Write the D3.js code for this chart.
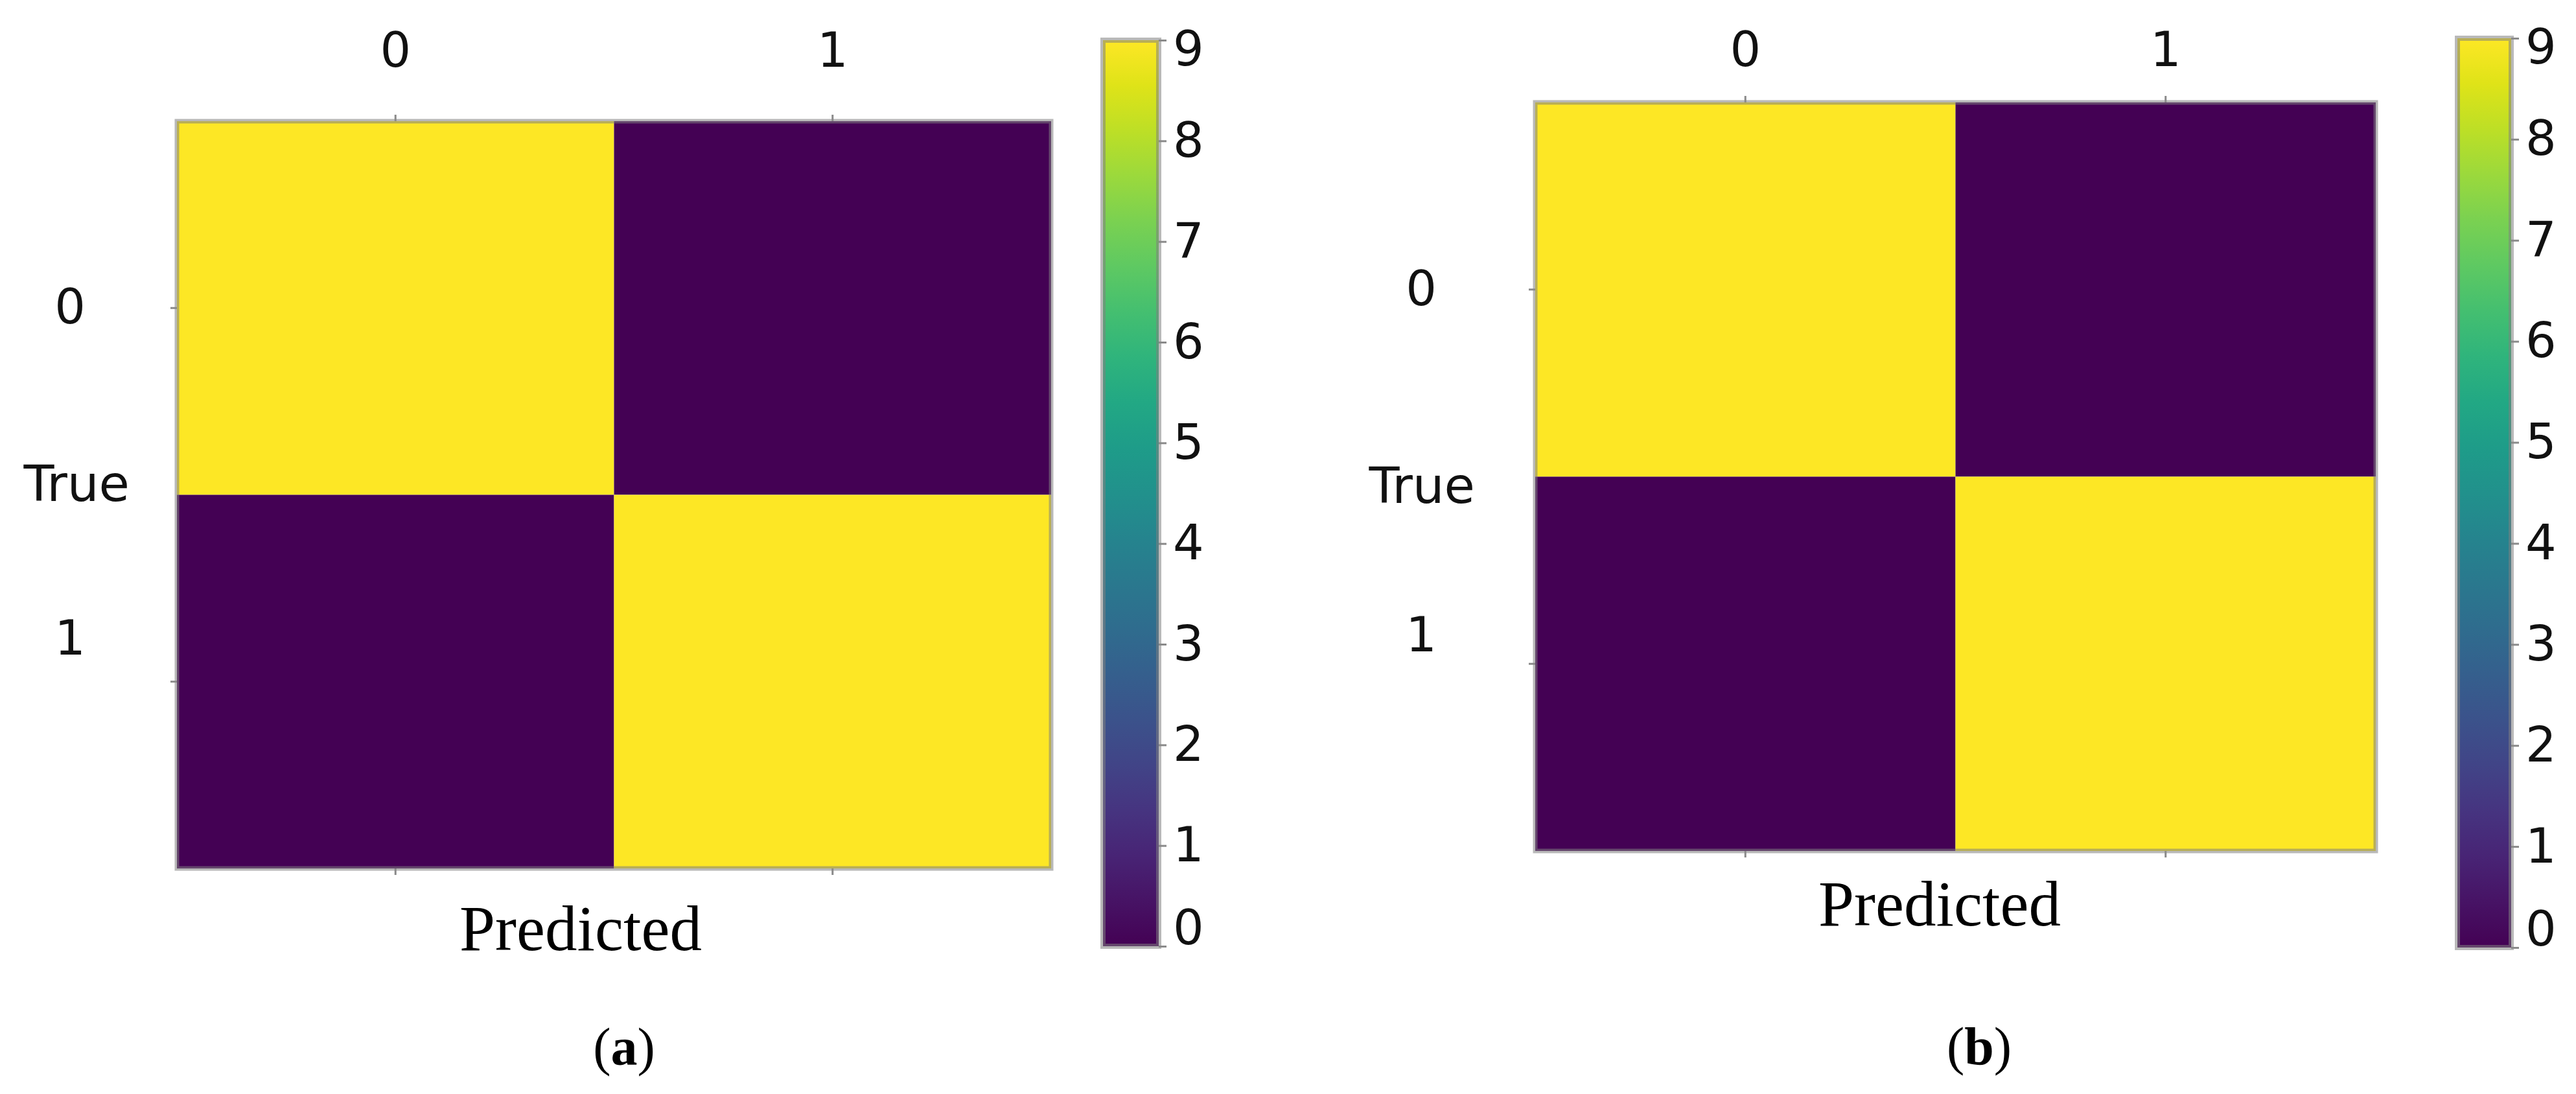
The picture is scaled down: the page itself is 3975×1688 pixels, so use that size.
<!DOCTYPE html>
<html>
<head>
<meta charset="utf-8">
<script src="https://cdn.jsdelivr.net/npm/d3@7"></script>
<style>
  html, body { margin: 0; padding: 0; background: #ffffff; }
  svg { display: block; }
</style>
</head>
<body>
<svg id="chart" width="3975" height="1688"></svg>
<script>
// ---------------- data ----------------
const classLabels = ["0", "1"];
const matrixA = [[9, 0], [0, 9]];
const matrixB = [[9, 0], [0, 9]];
const colorbarTicks = [0, 1, 2, 3, 4, 5, 6, 7, 8, 9];
const colorDomain = [0, 9];
const panelCaptions = ["a", "b"];
const xTitle = "Predicted";
const yTitle = "True";

// ---------------- layout ----------------
const panels = [
  { m: matrixA, cap: panelCaptions[0],
    x0: 273, x1: 1622, y0: 187, y1: 1340,
    colPad: 74, rowPad: 131, row1Shift: -66,
    trueX: 200, trueY: 773,
    predX: 896, predY: 1466,
    capX: 963, capY: 1643,
    cbX0: 1702, cbX1: 1788, cbY0: 62, cbY1: 1460 },
  { m: matrixB, cap: panelCaptions[1],
    x0: 2369, x1: 3666, y0: 158, y1: 1313,
    colPad: 46, rowPad: 142, row1Shift: -43,
    trueX: 2276, trueY: 776,
    predX: 2993, predY: 1428,
    capX: 3054, capY: 1642,
    cbX0: 3792, cbX1: 3875, cbY0: 59, cbY1: 1462 }
];

const svg = d3.select("#chart");
const color = d3.scaleSequential(d3.interpolateViridis).domain(colorDomain);
const sans = "'DejaVu Sans', sans-serif";
const serif = "'Liberation Serif', 'Times New Roman', serif";
const tickColor = "#8a8a8a";
const edge = "rgba(128,128,128,0.55)";

// gradient for colorbar
const defs = svg.append("defs");
const grad = defs.append("linearGradient").attr("id", "viridisGrad")
  .attr("x1", "0").attr("y1", "1").attr("x2", "0").attr("y2", "0");
d3.range(0, 1.0001, 0.05).forEach(t => {
  grad.append("stop").attr("offset", t).attr("stop-color", d3.interpolateViridis(t));
});

panels.forEach(p => {
  const g = svg.append("g");
  const x = d3.scaleBand().domain(classLabels).range([p.x0, p.x1]);
  const y = d3.scaleBand().domain(classLabels).range([p.y0, p.y1]);

  // cells
  const cells = [];
  p.m.forEach((row, i) => row.forEach((v, j) => cells.push({ r: classLabels[i], c: classLabels[j], v })));
  g.selectAll("rect.cell").data(cells).join("rect")
    .attr("class", "cell")
    .attr("x", d => x(d.c)).attr("y", d => y(d.r))
    .attr("width", x.bandwidth()).attr("height", y.bandwidth())
    .attr("fill", d => color(d.v));

  // frame
  g.append("rect")
    .attr("x", p.x0).attr("y", p.y0)
    .attr("width", p.x1 - p.x0).attr("height", p.y1 - p.y0)
    .attr("fill", "none").attr("stroke", edge).attr("stroke-width", 7);

  // top axis (column labels)
  const top = g.append("g").attr("transform", `translate(0,${p.y0})`)
    .call(d3.axisTop(x).tickSize(10).tickPadding(p.colPad));
  // bottom ticks only
  const bottom = g.append("g").attr("transform", `translate(0,${p.y1})`)
    .call(d3.axisBottom(x).tickSize(10).tickFormat(""));
  // left axis (row labels)
  const left = g.append("g").attr("transform", `translate(${p.x0},0)`)
    .call(d3.axisLeft(y).tickSize(10).tickPadding(p.rowPad));
  [top, bottom, left].forEach(a => {
    a.select(".domain").remove();
    a.selectAll(".tick line").attr("stroke", tickColor).attr("stroke-width", 3);
    a.selectAll(".tick text").attr("font-family", sans).attr("font-size", 75).attr("fill", "#111");
  });
  left.selectAll(".tick text").filter(d => d === "1").attr("transform", `translate(0,${p.row1Shift})`);

  // axis titles
  g.append("text").attr("x", p.trueX).attr("y", p.trueY)
    .attr("text-anchor", "end").attr("font-family", sans).attr("font-size", 77)
    .attr("fill", "#111").text(yTitle);
  g.append("text").attr("x", p.predX).attr("y", p.predY)
    .attr("text-anchor", "middle").attr("font-family", serif).attr("font-size", 99)
    .attr("fill", "#000").text(xTitle);

  // panel caption
  const cap = g.append("text").attr("x", p.capX).attr("y", p.capY)
    .attr("text-anchor", "middle").attr("font-family", serif).attr("font-size", 82).attr("fill", "#000");
  cap.append("tspan").text("(");
  cap.append("tspan").attr("font-weight", "bold").text(p.cap);
  cap.append("tspan").text(")");

  // colorbar
  const cy = d3.scaleLinear().domain(colorDomain).range([p.cbY1, p.cbY0]);
  g.append("rect")
    .attr("x", p.cbX0).attr("y", p.cbY0)
    .attr("width", p.cbX1 - p.cbX0).attr("height", p.cbY1 - p.cbY0)
    .attr("fill", "url(#viridisGrad)")
    .attr("stroke", edge).attr("stroke-width", 8);
  const cax = g.append("g").attr("transform", `translate(${p.cbX1},0)`)
    .call(d3.axisRight(cy).tickValues(colorbarTicks).tickSize(12).tickPadding(10).tickFormat(d3.format("d")));
  cax.select(".domain").remove();
  cax.selectAll(".tick line").attr("stroke", tickColor).attr("stroke-width", 3);
  cax.selectAll(".tick text").attr("font-family", sans).attr("font-size", 75).attr("fill", "#111");
  cax.selectAll(".tick text").filter(d => d === colorDomain[1]).attr("transform", "translate(0,14)");
  cax.selectAll(".tick text").filter(d => d === colorDomain[0]).attr("transform", "translate(0,-28)");
});
</script>
</body>
</html>
